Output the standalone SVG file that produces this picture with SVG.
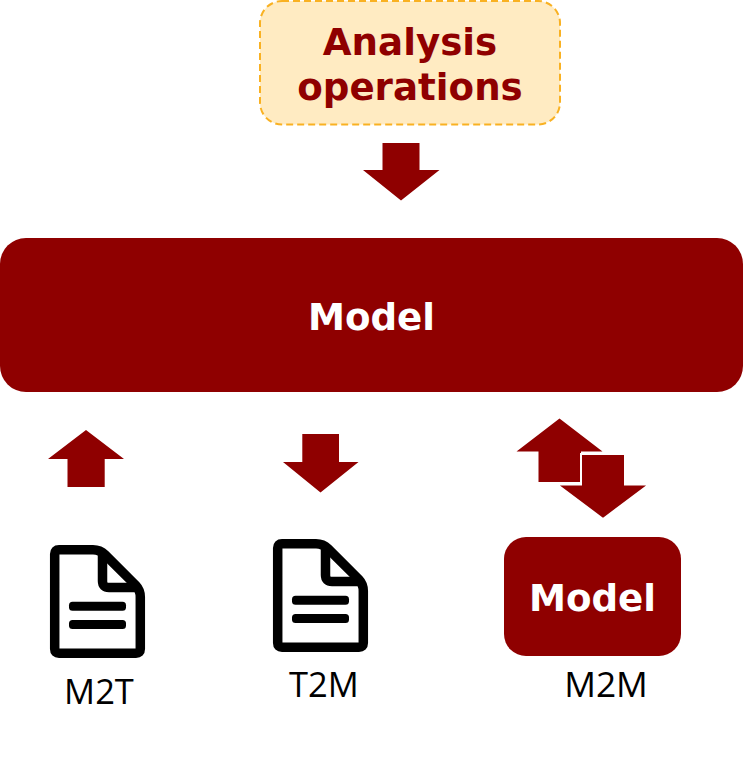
<svg xmlns="http://www.w3.org/2000/svg" width="752" height="760" viewBox="0 0 752 760">
<style>
.t{font-family:"DejaVu Sans",sans-serif;font-weight:700;text-anchor:middle;font-size:37.200px}
.l{font-family:"Open Sans","Noto Sans",sans-serif;font-size:34.500px;fill:#000;text-anchor:middle}
.a{fill:#8f0000}
.d{fill:none;stroke:#000;stroke-width:9.500px;stroke-linejoin:round}
</style>
<defs>
<g id="doc">
<path class="d" d="M59 549.700H93Q100 549.700 105 554.700L135.500 585Q140.300 590 140.300 597V649Q140.300 653.300 136 653.300H59Q54.700 653.300 54.700 649V554Q54.700 549.700 59 549.700Z"/>
<path class="d" d="M102.500 552V581Q102.500 587.500 109 587.500H138"/>
<rect x="69" y="601.700" width="57" height="9" rx="3.500"/>
<rect x="69" y="620" width="57" height="9" rx="3.500"/>
</g>
</defs>
<g id="analysis">
<rect x="260" y="1" width="300" height="123.500" rx="22" fill="#ffebc2" stroke="#f9b122" stroke-width="2" stroke-dasharray="7 4"/>
<text class="t" x="410" y="55" fill="#8f0000">Analysis</text>
<text class="t" x="410" y="100" fill="#8f0000">operations</text>
</g>
<g id="model">
<rect x="0" y="238" width="743" height="154" rx="26" fill="#8f0000"/>
<text class="t" x="371.500" y="330" fill="#fff">Model</text>
</g>
<g id="m2t">
<use href="#doc"/>
<text class="l" x="99" y="704">M2T</text>
</g>
<g id="t2m">
<use href="#doc" transform="translate(223 -6)"/>
<text class="l" x="324" y="697">T2M</text>
</g>
<g id="m2m">
<rect x="504" y="537" width="177" height="119" rx="22" fill="#8f0000"/>
<text class="t" x="592.500" y="611" fill="#fff">Model</text>
<text class="l" x="606" y="697" style="font-size:35.300px">M2M</text>
</g>
<g id="connectors">
<polygon class="a" points="382.500,143 419.500,143 419.500,170 439.500,170 401,200.500 363,170 382.500,170"/>
<polygon class="a" points="67.500,487 104.700,487 104.700,459 124,459 86,430 48,459 67.500,459"/>
<polygon class="a" points="302.300,434 339,434 339,462 358.500,462 320.500,492.500 283,462 302.300,462"/>
<polygon class="a" points="538.500,482 581,482 581,451.500 602.500,451.500 559.500,418.500 516.500,451.500 538.500,451.500"/>
<polygon class="a" stroke="#fff" stroke-width="2" points="581,454 625,454 625,484.500 649,484.500 603,519 557,484.500 581,484.500"/>
</g>
</svg>
